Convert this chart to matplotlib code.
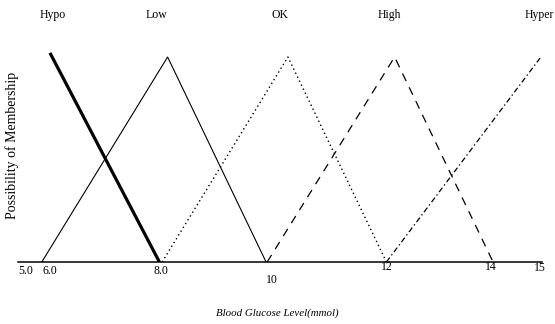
import matplotlib
matplotlib.use("Agg")
import matplotlib.pyplot as plt
from matplotlib.transforms import offset_copy, blended_transform_factory

plt.rcParams['font.family'] = ['Liberation Serif', 'DejaVu Serif']
plt.rcParams['lines.scale_dashes'] = False

# Membership functions (blood glucose in mmol, membership 0..1)
hypo_x = [6.0, 8.0]
hypo_y = [1.02, 0.0]
low_x = [5.85, 8.15, 9.95]
low_y = [0.0, 1.0, 0.0]
ok_x = [8.05, 10.35, 12.15]
ok_y = [0.0, 1.0, 0.0]
high_x = [9.97, 12.3, 14.1]
high_y = [0.0, 1.0, 0.0]
hyper_x = [12.15, 14.96]
hyper_y = [0.0, 0.995]

set_names = ["Hypo", "Low", "OK", "High", "Hyper"]
set_name_x = [6.05, 7.95, 10.2, 12.2, 14.95]

tick_labels = ["5.0", "6.0", "8.0", "10", "12", "14", "15"]
tick_x = [5.55, 6.0, 8.02, 10.05, 12.15, 14.05, 14.95]
tick_drop = [9, 9, 9, 18, 5, 5, 6]   # drop below the axis line, in points

W, H = 555, 324
fig = plt.figure(figsize=(W / 100, H / 100), dpi=100)
left_px, right_px, base_px, top_px = 18, 542, 262, 50
ax = fig.add_axes([left_px / W, (H - base_px) / H,
                   (right_px - left_px) / W, (base_px - top_px) / H])
x0 = 6 + (left_px - 50) / 54.7
x1 = 6 + (right_px - 50) / 54.7
ax.set_xlim(x0, x1)
ax.set_ylim(0, (base_px - top_px) / 205)

ax.plot(hypo_x, hypo_y, color='black', lw=2.3, solid_capstyle='butt')
ax.plot(low_x, low_y, color='black', lw=0.8)
ax.plot(ok_x, ok_y, color='black', lw=1.0, linestyle=(0, (1, 2.2)))
ax.plot(high_x, high_y, color='black', lw=0.9, linestyle=(0, (6, 5)))
ax.plot(hyper_x, hyper_y, color='black', lw=0.9, linestyle=(0, (4, 2, 1, 2)))

for s in ['top', 'right', 'left']:
    ax.spines[s].set_visible(False)
ax.spines['bottom'].set_linewidth(1.1)
ax.set_xticks([])
ax.set_yticks([])

# tick labels below the baseline
for lab, x, d in zip(tick_labels, tick_x, tick_drop):
    tr = offset_copy(ax.get_xaxis_transform(), fig=fig, x=0, y=-d * 0.72, units='points')
    ax.text(x, 0, lab, transform=tr, ha='center', va='center', fontsize=8.5)

# fuzzy set names along the top edge of the figure
name_tr = blended_transform_factory(ax.transData, fig.transFigure)
for lab, x in zip(set_names, set_name_x):
    ax.text(x, 1 - 15 / H, lab, transform=name_tr, ha='center', va='center',
            fontsize=8.5, clip_on=False)

fig.text(12 / W, 1 - 145 / H, "Possibility of Membership", rotation=90,
         ha='center', va='center', fontsize=10)
fig.text(277 / W, 1 - 313 / H, "Blood Glucose Level(mmol)", style='italic',
         ha='center', va='center', fontsize=7.8)

fig.savefig("out.png", dpi=100)
